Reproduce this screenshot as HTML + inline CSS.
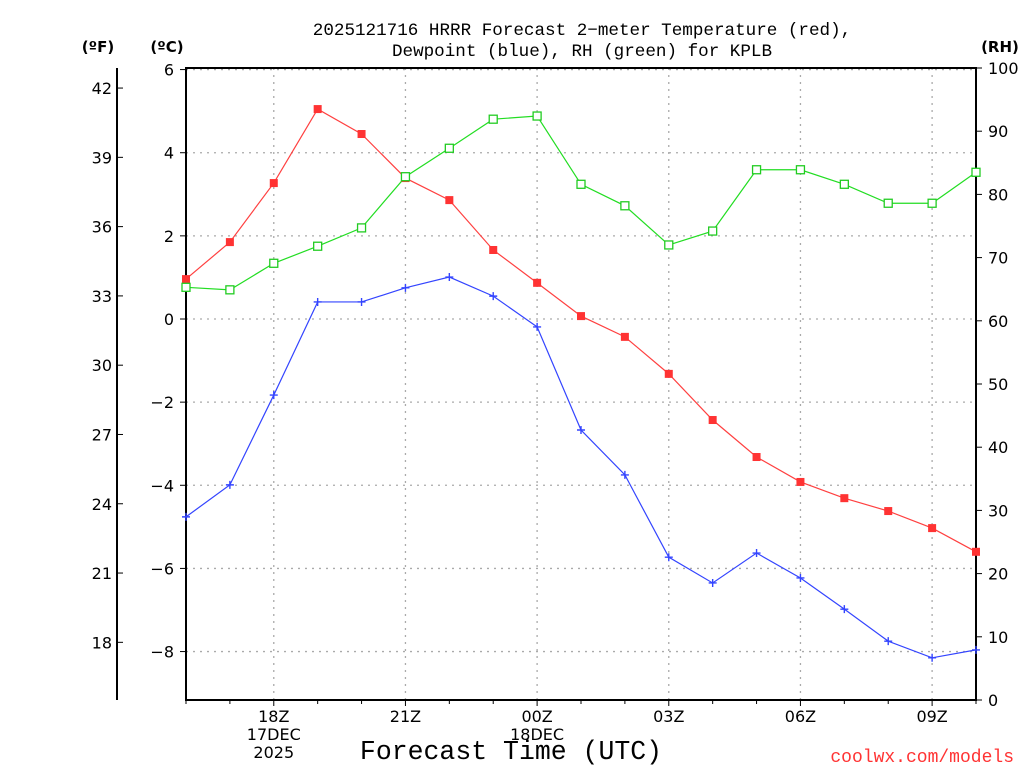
<!DOCTYPE html>
<html><head><meta charset="utf-8"><style>
body{margin:0;background:#fff;}
svg text{font-family:"DejaVu Sans","Liberation Sans",sans-serif;}
svg text.mono{font-family:"Liberation Mono",monospace;}
</style></head><body>
<svg id="chart" width="1024" height="768" xmlns="http://www.w3.org/2000/svg">
<g id="grid"></g>
<g id="axes"></g>
<g id="series"></g>
<text class="mono" x="582" y="35" font-size="17.6" text-anchor="middle">2025121716 HRRR Forecast 2−meter Temperature (red),</text>
<text class="mono" x="582" y="56" font-size="17.6" text-anchor="middle">Dewpoint (blue), RH (green) for KPLB</text>
<text x="98" y="52" font-size="15" font-weight="bold" text-anchor="middle">(ºF)</text>
<text x="167" y="52" font-size="15" font-weight="bold" text-anchor="middle">(ºC)</text>
<text x="1000" y="52" font-size="15" font-weight="bold" text-anchor="middle">(RH)</text>
<text class="mono" x="511" y="759" font-size="26.5" text-anchor="middle">Forecast Time (UTC)</text>
<text class="mono" x="1014" y="762" font-size="18" fill="#ff3333" text-anchor="end">coolwx.com/models</text>
</svg>
<script>
const hours = [16,17,18,19,20,21,22,23,24,25,26,27,28,29,30,31,32,33,34];
const tempC = [0.96,1.85,3.27,5.05,4.45,3.39,2.86,1.66,0.87,0.07,-0.43,-1.32,-2.43,-3.32,-3.92,-4.31,-4.62,-5.03,-5.6];
const dewC = [-4.76,-3.99,-1.83,0.41,0.41,0.75,1.01,0.55,-0.19,-2.67,-3.75,-5.73,-6.35,-5.63,-6.23,-6.98,-7.75,-8.15,-7.96];
const rh = [65.3,64.9,69.1,71.8,74.7,82.8,87.3,91.9,92.4,81.6,78.2,72,74.2,83.9,83.9,81.6,78.6,78.6,83.5];
const cTicks = [6,4,2,0,-2,-4,-6,-8];
const fTicks = [42,39,36,33,30,27,24,21,18];
const rhTicks = [0,10,20,30,40,50,60,70,80,90,100];
const xLabels = [[18,"18Z","17DEC","2025"],[21,"21Z"],[24,"00Z","18DEC"],[27,"03Z"],[30,"06Z"],[33,"09Z"]];

const L=186,R=976,T=68,B=700;
const x=h=>L+(h-16)*(R-L)/18;
const yC=c=>319-c*41.57;
const yF=f=>yC((f-32)/1.8);
const yR=r=>B-r*(B-T)/100;
const NS="http://www.w3.org/2000/svg";
function mk(parent,tag,attrs,txt){const e=document.createElementNS(NS,tag);for(const k in attrs)e.setAttribute(k,attrs[k]);if(txt!==undefined)e.textContent=txt;document.getElementById(parent).appendChild(e);return e;}

cTicks.forEach(c=>{
  const g=mk('grid','line',{x1:L,x2:R,y1:yC(c),y2:yC(c),stroke:'#aaa','stroke-dasharray':'2,5','stroke-width':1.3});
  
  
  const t=mk('axes','line',{x1:L-6,x2:L,y1:yC(c),y2:yC(c),stroke:'#000'});
  
  
  const lb=mk('axes','text',{x:L-12,y:yC(c)+6,'font-size':16,'text-anchor':'end'},c<0?'−'+(-c):String(c));
  
  
});
xLabels.forEach(a=>{
  const g=mk('grid','line',{x1:x(a[0]),x2:x(a[0]),y1:T,y2:B,stroke:'#aaa','stroke-dasharray':'2,5','stroke-width':1.3});
  
  
  for(let i=1;i<a.length;i++){
    const lb=mk('axes','text',{x:x(a[0]),y:B+22+(i-1)*18,'font-size':16,'text-anchor':'middle'},a[i]);
    
    
  }
});
hours.forEach(h=>{
  const t=mk('axes','line',{x1:x(h),x2:x(h),y1:B,y2:B+(h%3==0?6:4),stroke:'#000'});
  
  
});
fTicks.forEach(f=>{
  const t=mk('axes','line',{x1:117,x2:123,y1:yF(f),y2:yF(f),stroke:'#000'});
  
  
  const lb=mk('axes','text',{x:112,y:yF(f)+6,'font-size':16,'text-anchor':'end'},String(f));
  
  
});
rhTicks.forEach(r=>{
  const t=mk('axes','line',{x1:R,x2:R+6,y1:yR(r),y2:yR(r),stroke:'#000'});
  
  
  const lb=mk('axes','text',{x:R+12,y:yR(r)+6,'font-size':16},String(r));
  
  
});
const fr=mk('axes','rect',{x:L,y:T,width:R-L,height:B-T,fill:'none',stroke:'#000','stroke-width':2});


const fa=mk('axes','line',{x1:117,x2:117,y1:T,y2:B,stroke:'#000','stroke-width':2});



function line(vals,yf,color,name){
  const p=mk('series','polyline',{points:vals.map((v,i)=>x(hours[i])+','+yf(v)).join(' '),fill:'none',stroke:color,'stroke-width':1.2});
  
  
}
line(tempC,yC,'#ff4040','temperature-line');
line(dewC,yC,'#3344ff','dewpoint-line');
line(rh,yR,'#22dd22','rh-line');
tempC.forEach((v,i)=>{
  const m=mk('series','rect',{x:x(hours[i])-4,y:yC(v)-4,width:8,height:8,fill:'#ff3333'});
  
  
});
dewC.forEach((v,i)=>{
  const m=mk('series','path',{d:`M${x(hours[i])-4},${yC(v)}h8M${x(hours[i])},${yC(v)-4}v8`,stroke:'#3344ff','stroke-width':1.4});
  
  
});
rh.forEach((v,i)=>{
  const m=mk('series','rect',{x:x(hours[i])-4,y:yR(v)-4,width:8,height:8,fill:'#fff',stroke:'#22cc22','stroke-width':1.3});
  
  
});
</script>
</body></html>
